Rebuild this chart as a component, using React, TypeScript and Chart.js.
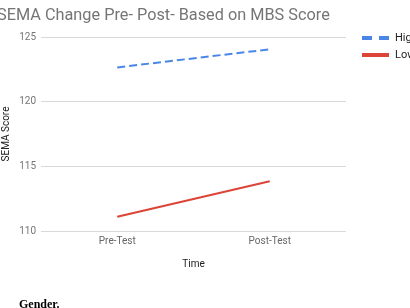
import React, { useEffect, useRef } from "react";
import { Chart, registerables } from "chart.js";

Chart.register(...registerables);

const chartTitle = "SEMA Change Pre- Post- Based on MBS Score";
const categories = ["Pre-Test", "Post-Test"];
const seriesNames = ["High", "Low"];
const highValues = [122.65, 124.05];
const lowValues = [111.1, 113.85];
const yTicks = [110, 115, 120, 125];
const xAxisTitle = "Time";
const yAxisTitle = "SEMA Score";
const captionText = "Gender.";

const FONT = "Roboto, 'Noto Sans', Arial, sans-serif";

const overlayPlugin = {
  id: "overlay",
  afterDraw(chart: any) {
    const ctx = chart.ctx;
    ctx.save();
    // title
    ctx.font = `16.3px ${FONT}`;
    ctx.fillStyle = "#757575";
    ctx.textAlign = "left";
    ctx.textBaseline = "middle";
    ctx.fillText(chartTitle, -3, 16);
    // legend
    chart.data.datasets.forEach((ds: any, i: number) => {
      const y = 38 + i * 17;
      ctx.beginPath();
      ctx.strokeStyle = ds.borderColor;
      ctx.lineWidth = 4;
      ctx.setLineDash(ds.borderDash && ds.borderDash.length ? [10, 7] : []);
      ctx.moveTo(362, y);
      ctx.lineTo(389, y);
      ctx.stroke();
      ctx.setLineDash([]);
      ctx.font = `11px ${FONT}`;
      ctx.fillStyle = "#222222";
      ctx.fillText(ds.label, 395, y);
    });
    ctx.restore();
  },
};

export default function App() {
  const ref = useRef<HTMLCanvasElement | null>(null);
  useEffect(() => {
    document.body.style.margin = "0";
    const c = new Chart(ref.current as HTMLCanvasElement, {
      type: "line",
      data: {
        labels: categories,
        datasets: [
          {
            label: seriesNames[0],
            data: highValues,
            borderColor: "#4a86e8",
            backgroundColor: "#4a86e8",
            borderWidth: 2,
            borderDash: [8, 4],
            pointRadius: 0,
            tension: 0,
          },
          {
            label: seriesNames[1],
            data: lowValues,
            borderColor: "#db4437",
            backgroundColor: "#db4437",
            borderWidth: 2,
            pointRadius: 0,
            tension: 0,
          },
        ],
      },
      options: {
        animation: false,
        responsive: false,
        layout: { padding: { left: 0, right: 64, top: 37, bottom: 34 } },
        plugins: { legend: { display: false }, title: { display: false }, tooltip: { enabled: false } },
        scales: {
          x: {
            offset: true,
            grid: { display: false, drawTicks: false },
            border: { display: false },
            ticks: { font: { size: 10, family: FONT }, color: "#666666", padding: 4 },
            title: { display: true, text: xAxisTitle, font: { size: 10, family: FONT }, color: "#222222", padding: { top: 0, bottom: 4 } },
            afterFit: (s: any) => { s.height = 43; },
          },
          y: {
            min: yTicks[0],
            max: yTicks[yTicks.length - 1],
            afterBuildTicks: (s: any) => { s.ticks = yTicks.map((v) => ({ value: v })); },
            grid: { color: "#d9d9d9", drawTicks: false, lineWidth: 1 },
            border: { display: false },
            ticks: { font: { size: 10, family: FONT }, color: "#757575", padding: 5 },
            title: { display: true, text: yAxisTitle, font: { size: 10, family: FONT }, color: "#222222", padding: { top: 0, bottom: 0 } },
            afterFit: (s: any) => { s.width = 41; },
          },
        },
      },
      plugins: [overlayPlugin],
    });
    return () => c.destroy();
  }, []);
  return (
    <div style={{ position: "relative", width: 410, height: 308, overflow: "hidden" }}>
      <canvas ref={ref} width={410} height={308} style={{ display: "block" }} />
      <div
        style={{
          position: "absolute",
          left: 19,
          top: 297,
          fontFamily: "'Liberation Serif', 'Times New Roman', serif",
          fontWeight: "bold",
          fontSize: 12,
          color: "#000",
          whiteSpace: "nowrap",
        }}
      >
        {captionText}
      </div>
    </div>
  );
}
